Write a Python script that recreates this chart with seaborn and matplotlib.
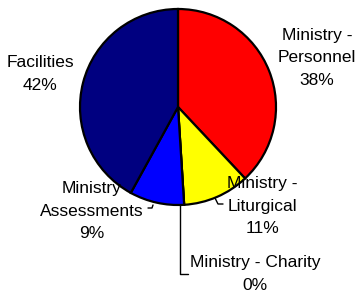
import matplotlib
matplotlib.use("Agg")
import matplotlib.pyplot as plt
import seaborn as sns

sns.set_style("white")
plt.rcParams['font.family'] = ['Liberation Sans', 'DejaVu Sans']

# data
categories = ["Ministry -\nPersonnel", "Ministry -\nLiturgical", "Ministry - Charity",
              "Ministry\nAssessments", "Facilities"]
values = [38, 11, 0, 9, 42]
colors = ["#FF0000", "#FFFF00", "#00FFFF", "#0000FF", "#000080"]

# layout: pie centre at (178,107) px, radius 98 px
W, H, CX, CY, R = 357, 293, 178, 107, 98

def px(x, y):
    return ((x - CX) / R, (CY - y) / R)

label_pos = [px(317, 58), px(262, 206), px(255, 274), px(92, 211), px(40, 74)]
leaders = [None,
           [px(215, 198), px(218, 204), px(223, 204)],
           [px(180, 205), px(180, 274), px(188, 274)],
           [px(148, 208), px(152, 208), px(153, 205)],
           None]

fig = plt.figure(figsize=(W / 100, H / 100), dpi=100)
ax = fig.add_axes([0, 0, 1, 1])

ax.pie(values, colors=colors, startangle=90, counterclock=False, radius=1,
       wedgeprops=dict(edgecolor="black", linewidth=1.6))

for cat, v, pos, lead in zip(categories, values, label_pos, leaders):
    ax.text(pos[0], pos[1], f"{cat}\n{v}%", ha="center", va="center",
            fontsize=12.5, linespacing=1.6, color="black")
    if lead:
        xs, ys = zip(*lead)
        ax.plot(xs, ys, color="black", lw=1.0)

ax.set_xlim(-CX / R, (W - CX) / R)
ax.set_ylim(-(H - CY) / R, CY / R)
ax.set_aspect("auto")
ax.axis("off")

fig.savefig("out.png", dpi=100, facecolor="white")
